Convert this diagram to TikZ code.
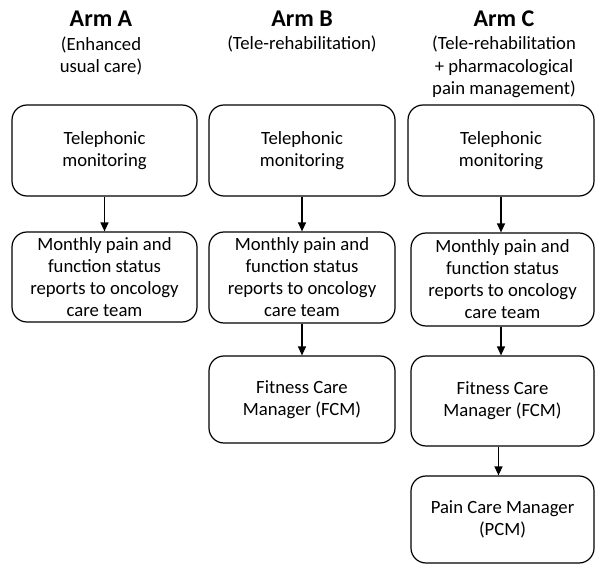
\documentclass[tikz,border=0pt]{standalone}
\usepackage{fontspec}
\setmainfont{Carlito}
\usetikzlibrary{arrows.meta}
\tikzset{
  box/.style={draw, line width=1.2pt, rounded corners=15pt, align=center,
    font=\fontsize{18.7}{22}\selectfont, inner sep=2pt},
  ttl/.style={font=\fontsize{24}{28}\bfseries\selectfont, inner sep=0pt},
  sub/.style={font=\fontsize{18.7}{22.5}\selectfont, align=center, inner sep=0pt},
  conn/.style={line width=1.3pt, -{Triangle[length=9pt,width=8pt]}}
}
\begin{document}
\begin{tikzpicture}[x=1pt,y=-1pt]
\useasboundingbox (0,0) rectangle (595,564);
% titles
\node[ttl] (ta) at (101,19) {Arm A};
\node[ttl] (tb) at (302,19) {Arm B};
\node[ttl] (tc) at (504,19) {Arm C};
\node[sub] (sa) at (101,56) {(Enhanced\\usual care)};
\node[sub] (sb) at (302,44) {(Tele-rehabilitation)};
\node[sub] (sc) at (504,67) {(Tele-rehabilitation\\+ pharmacological\\pain management)};
% Arm A
\node[box, minimum width=185pt, minimum height=91pt] (a1) at (104.5,150.5) {Telephonic\\monitoring};
\node[box, minimum width=185pt, minimum height=90pt] (a2) at (104.5,277) {Monthly pain and\\function status\\reports to oncology\\care team};
% Arm B
\node[box, minimum width=186pt, minimum height=91pt] (b1) at (302,150.5) {Telephonic\\monitoring};
\node[box, minimum width=186pt, minimum height=91pt] (b2) at (302,277.5) {Monthly pain and\\function status\\reports to oncology\\care team};
\node[box, minimum width=186pt, minimum height=87pt] (b3) at (302,399.5) {Fitness Care\\Manager (FCM)};
% Arm C
\node[box, minimum width=186pt, minimum height=91pt] (c1) at (501,150.5) {Telephonic\\monitoring};
\node[box, minimum width=183pt, minimum height=93pt] (c2) at (502.5,279.5) {Monthly pain and\\function status\\reports to oncology\\care team};
\node[box, minimum width=183pt, minimum height=90pt] (c3) at (502.5,401) {Fitness Care\\Manager (FCM)};
\node[box, minimum width=183pt, minimum height=87pt] (c4) at (502.5,519.5) {Pain Care Manager\\(PCM)};
% connectors
\draw[conn] (a1.south) -- (a2.north);
\draw[conn] (b1.south) -- (b2.north);
\draw[conn] (b2.south) -- (b3.north);
\draw[conn] (c1.south) -- (c1.south |- c2.north);
\draw[conn] (c1.south |- c2.south) -- (c1.south |- c3.north);
\draw[conn] ([xshift=-4pt]c3.south) -- ([xshift=-4pt]c4.north);
\end{tikzpicture}
\end{document}
